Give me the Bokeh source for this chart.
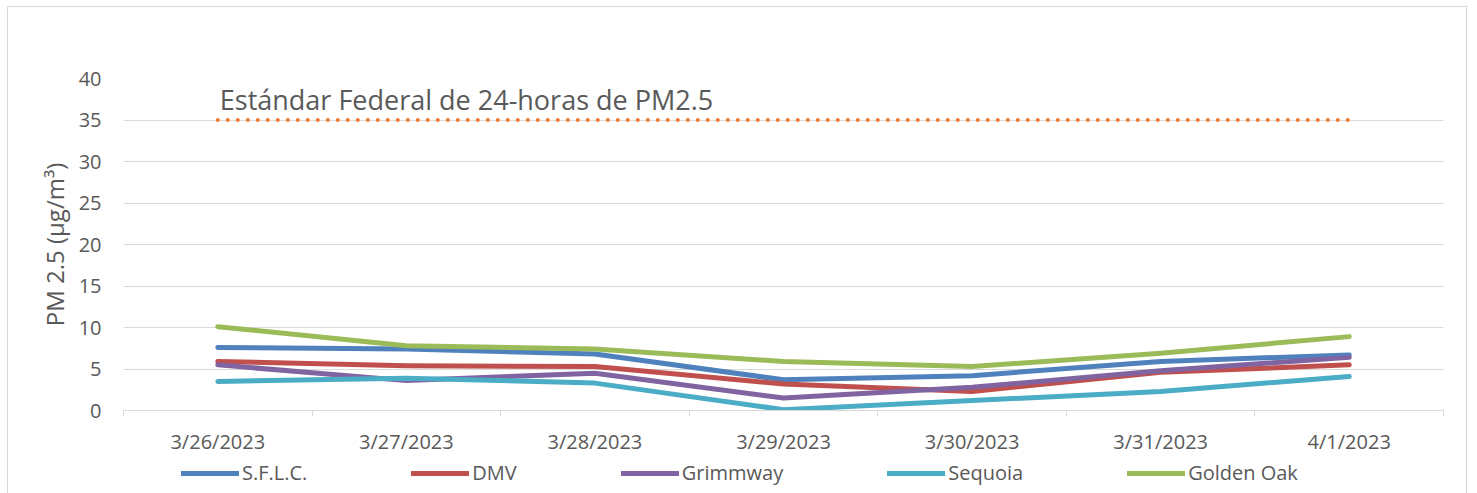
from bokeh.plotting import figure
from bokeh.models import Range1d, FixedTicker, Legend, LegendItem, Label, Spacer
from bokeh.layouts import row, column
from bokeh.embed import file_html
from bokeh.resources import INLINE

dates = ["3/26/2023", "3/27/2023", "3/28/2023", "3/29/2023", "3/30/2023", "3/31/2023", "4/1/2023"]
sflc = [7.6, 7.4, 6.8, 3.7, 4.2, 5.9, 6.7]
dmv = [5.9, 5.4, 5.3, 3.2, 2.3, 4.6, 5.5]
grimmway = [5.5, 3.6, 4.5, 1.5, 2.8, 4.8, 6.4]
sequoia = [3.5, 3.9, 3.3, 0.1, 1.2, 2.3, 4.1]
golden_oak = [10.1, 7.8, 7.4, 5.9, 5.3, 6.9, 8.9]
standard = 35
standard_label = "Estándar Federal de 24-horas de PM2.5"
y_ticks = [0, 5, 10, 15, 20, 25, 30, 35, 40]

series = [
    ("S.F.L.C.", sflc, "#4F81BD"),
    ("DMV", dmv, "#C0504D"),
    ("Grimmway", grimmway, "#8064A2"),
    ("Sequoia", sequoia, "#4BACC6"),
    ("Golden Oak", golden_oak, "#9BBB59"),
]

FONT = "Open Sans"
TXT = "#595959"
GRID = "#D9D9D9"
BORDER = "1px solid #D9D9D9"

x = list(range(len(dates)))

p = figure(width=1460, height=450, output_backend="svg", toolbar_location=None,
           x_range=Range1d(-0.5, len(dates) - 0.5), y_range=Range1d(0, 40),
           min_border_left=115, min_border_right=25, min_border_top=71, min_border_bottom=30)
p.styles = {"border-left": BORDER, "border-right": BORDER, "border-top": BORDER}
p.outline_line_color = None
p.background_fill_color = "white"
p.border_fill_color = "white"

# x axis
xa = p.xaxis[0]
xa.ticker = FixedTicker(ticks=x, minor_ticks=[i - 0.5 for i in range(len(dates) + 1)])
xa.major_label_overrides = {i: d for i, d in enumerate(dates)}
xa.major_tick_line_color = None
xa.major_tick_out = 0
xa.major_tick_in = 0
xa.minor_tick_line_color = GRID
xa.minor_tick_line_width = 1
xa.minor_tick_out = 6
xa.minor_tick_in = 0
xa.axis_line_color = GRID
xa.axis_line_width = 1
xa.major_label_standoff = 11
xa.major_label_text_font = FONT
xa.major_label_text_font_size = "20px"
xa.major_label_text_color = TXT
p.xgrid.grid_line_color = None

# y axis
ya = p.yaxis[0]
ya.ticker = FixedTicker(ticks=y_ticks)
ya.axis_line_color = None
ya.major_tick_line_color = None
ya.minor_tick_line_color = None
ya.major_tick_out = 0
ya.major_label_standoff = 22
ya.major_label_text_font = FONT
ya.major_label_text_font_size = "20px"
ya.major_label_text_color = TXT
ya.axis_label = "PM 2.5 (µg/m³)"
ya.axis_label_text_font = FONT
ya.axis_label_text_font_size = "24px"
ya.axis_label_text_font_style = "normal"
ya.axis_label_text_color = TXT
ya.axis_label_standoff = 5
p.ygrid.grid_line_color = GRID
p.ygrid.grid_line_width = 1

# standard line (dotted)
p.line([x[0], x[-1]], [standard, standard], line_color="#ED7D31", line_width=4,
       line_dash="0 10", line_cap="round")
p.add_layout(Label(x=x[0], y=standard, x_offset=2, y_offset=21, text=standard_label,
                   text_font=FONT, text_font_size="27px", text_color=TXT,
                   text_baseline="alphabetic"))

for name, vals, col in series:
    p.line(x, vals, line_color=col, line_width=5, line_join="round", line_cap="round")

# legend strip (same series; its view range keeps the lines off-screen, only the key shows)
pl = figure(width=1460, height=37, output_backend="svg", toolbar_location=None,
            x_range=Range1d(100, 101), y_range=Range1d(0, 40),
            x_axis_type=None, y_axis_type=None, min_border=0)
pl.styles = {"border-left": BORDER, "border-right": BORDER}
pl.outline_line_color = None
pl.xgrid.grid_line_color = None
pl.ygrid.grid_line_color = None
items = []
for name, vals, col in series:
    r = pl.line(x, vals, line_color=col, line_width=5, line_cap="round")
    items.append(LegendItem(label=name, renderers=[r]))

lg = Legend(items=items, location=(58, 7), orientation="horizontal",
            padding=0, margin=0, spacing=104,
            glyph_width=58, glyph_height=22, label_height=22, label_standoff=3,
            label_text_font=FONT, label_text_font_size="20px", label_text_color=TXT,
            border_line_color=None, background_fill_alpha=0)
pl.add_layout(lg, "center")

layout = column(Spacer(height=6), row(Spacer(width=7), column(p, pl)))
open("out.html", "w").write(file_html(layout, INLINE))
